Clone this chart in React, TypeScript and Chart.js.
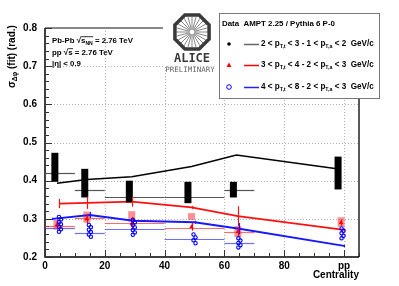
import React, { useEffect, useRef } from 'react';
import { Chart, registerables } from 'chart.js';

Chart.register(...registerables);

const FONT = '"Liberation Sans", Arial, Helvetica, sans-serif';

// ---- axis ticks ----
const xTickValues = [0, 20, 40, 60, 80, 100];
const xTickLabels = ['0', '20', '40', '60', '80', 'pp'];
const yTickValues = [0.2, 0.3, 0.4, 0.5, 0.6, 0.7, 0.8];

// ---- centrality bins (horizontal bars) ----
const binLo = [0, 10, 20, 40, 60, null];
const binHi = [10, 20, 40, 60, 70, null];

// ---- AMPT model lines ----
const blackModelX = [4, 14, 29, 49, 64, 97];
const blackModelY = [0.393, 0.403, 0.41, 0.437, 0.467, 0.432];
const redModelX = [4.7, 14, 29, 49, 64.5, 100];
const redModelY = [0.34, 0.342, 0.345, 0.33, 0.307, 0.271];
const redModelErr = [0.012, 0.016, 0.013, 0.004, 0.026, 0.004];
const blueModelX = [2.5, 15, 29.5, 50, 65, 100];
const blueModelY = [0.3, 0.31, 0.295, 0.291, 0.274, 0.229];
const blueModelErr = [0.003, 0.008, 0.008, 0.004, 0.015, 0.003];

// ---- data: 2<pTt<3, 1<pTa<2 ----
const blackDataX = [3.3, 13.3, 28.2, 47.8, 63, 98];
const blackDataY = [0.42, 0.375, 0.358, 0.358, 0.3755, 0.42];
const blackSysLo = [0.397, 0.356, 0.343, 0.341, 0.356, 0.377];
const blackSysHi = [0.473, 0.431, 0.4, 0.397, 0.397, 0.463];

// ---- data: 3<pTt<4, 2<pTa<3 ----
const redDataX = [4, 14, 29, 49, 64.5, 99];
const redDataY = [0.284, 0.3, 0.288, 0.279, 0.266, 0.29];
const redStatErr = [0.012, 0.012, 0.016, 0.01, 0.012, 0.008];
const redSysLo = [0.272, 0.29, 0.293, 0.297, 0.252, 0.279];
const redSysHi = [0.297, 0.319, 0.32, 0.315, 0.281, 0.304];
const redBarY = [0.282, 0.302, 0.29, 0.276, 0.266, null];

// ---- data: 4<pTt<8, 2<pTa<3 ----
const blueDataX = [5, 15, 29.7, 50, 65, 99.5];
const blueSysLo = [0.266, 0.253, 0.258, 0.236, 0.225, 0.249];
const blueSysHi = [0.305, 0.284, 0.297, 0.259, 0.249, 0.275];
const blueBarY = [0.277, 0.264, 0.273, 0.247, 0.2375, null];

type Part = { t: string; sub?: boolean; over?: boolean };

function drawRich(ctx: CanvasRenderingContext2D, parts: Part[], x: number, y: number, size: number, color = '#000', weight = 'bold') {
  let cx = x;
  ctx.fillStyle = color;
  ctx.textBaseline = 'middle';
  ctx.textAlign = 'left';
  for (const p of parts) {
    const s = p.sub ? size * 0.65 : size;
    ctx.font = `${weight} ${s}px ${FONT}`;
    const dy = p.sub ? size * 0.32 : 0;
    ctx.fillText(p.t, cx, y + dy);
    const w = ctx.measureText(p.t).width;
    if (p.over) {
      ctx.strokeStyle = color;
      ctx.lineWidth = 0.8;
      ctx.beginPath();
      ctx.moveTo(cx, y - size * 0.55);
      ctx.lineTo(cx + w + 0.5, y - size * 0.55);
      ctx.stroke();
    }
    cx += w;
  }
  return cx - x;
}

function richWidth(ctx: CanvasRenderingContext2D, parts: Part[], size: number, weight = 'bold') {
  let w = 0;
  for (const p of parts) {
    const s = p.sub ? size * 0.65 : size;
    ctx.font = `${weight} ${s}px ${FONT}`;
    w += ctx.measureText(p.t).width;
  }
  return w;
}

function drawFit(ctx: CanvasRenderingContext2D, parts: Part[], x: number, y: number, width: number, color = '#000') {
  const w10 = richWidth(ctx, parts, 10);
  const size = (10 * width) / w10;
  drawRich(ctx, parts, x, y, size, color);
}

const decorPlugin = {
  id: 'decor',
  beforeDatasetsDraw(chart: any) {
    const ctx: CanvasRenderingContext2D = chart.ctx;
    const xs = chart.scales.x;
    const ys = chart.scales.y;
    const a = chart.chartArea;
    ctx.save();
    // grid
    ctx.strokeStyle = '#b0b0b0';
    ctx.lineWidth = 1;
    ctx.setLineDash([1, 2]);
    for (const v of xTickValues) {
      if (v === 0) continue;
      const p = Math.round(xs.getPixelForValue(v)) + 0.5;
      ctx.beginPath();
      ctx.moveTo(p, a.top);
      ctx.lineTo(p, a.bottom);
      ctx.stroke();
    }
    for (const v of yTickValues) {
      if (v <= 0.2 || v >= 0.8) continue;
      const p = Math.round(ys.getPixelForValue(v)) + 0.5;
      ctx.beginPath();
      ctx.moveTo(a.left, p);
      ctx.lineTo(a.right, p);
      ctx.stroke();
    }
    ctx.setLineDash([]);
    // frame
    ctx.strokeStyle = '#888';
    ctx.lineWidth = 2;
    ctx.beginPath();
    ctx.moveTo(a.left, a.top);
    ctx.lineTo(a.right, a.top);
    ctx.stroke();
    ctx.strokeStyle = '#222';
    ctx.lineWidth = 1.5;
    ctx.beginPath();
    ctx.moveTo(a.right, a.top);
    ctx.lineTo(a.right, a.bottom);
    ctx.stroke();
    ctx.strokeStyle = '#000';
    ctx.lineWidth = 1.5;
    ctx.beginPath();
    ctx.moveTo(a.left, a.top);
    ctx.lineTo(a.left, a.bottom);
    ctx.lineTo(a.right, a.bottom);
    ctx.stroke();
    // ticks
    ctx.lineWidth = 1;
    ctx.strokeStyle = '#333';
    for (let k = 0; k <= 30; k++) {
      const v = 0.2 + k * 0.02;
      const p = Math.round(ys.getPixelForValue(v)) + 0.5;
      const len = k % 5 === 0 ? 7 : 4;
      ctx.beginPath();
      ctx.moveTo(a.left, p);
      ctx.lineTo(a.left + len, p);
      ctx.stroke();
    }
    for (let k = 0; k <= 21; k++) {
      const v = k * 5;
      const p = Math.round(xs.getPixelForValue(v)) + 0.5;
      const len = k % 4 === 0 ? 7 : 4;
      ctx.beginPath();
      ctx.moveTo(p, a.bottom);
      ctx.lineTo(p, a.bottom - len);
      ctx.stroke();
    }

    // red systematic boxes
    ctx.fillStyle = 'rgba(255,70,70,0.6)';
    redDataX.forEach((x, i) => {
      const px = xs.getPixelForValue(x);
      const t = ys.getPixelForValue(redSysHi[i]);
      const b = ys.getPixelForValue(redSysLo[i]);
      ctx.fillRect(px - 3.5, t, 7, b - t);
    });
    // horizontal bin bars
    binLo.forEach((lo, i) => {
      if (lo === null) return;
      const hi = binHi[i] as number;
      const x0 = xs.getPixelForValue(lo);
      const x1 = xs.getPixelForValue(hi);
      const bars: [number | null, string][] = [
        [blackDataY[i], '#555'],
        [redBarY[i], 'rgba(255,60,60,0.75)'],
        [blueBarY[i], 'rgba(60,60,255,0.75)'],
      ];
      for (const [yv, col] of bars) {
        if (yv === null) continue;
        const py = Math.round(ys.getPixelForValue(yv)) + 0.5;
        ctx.strokeStyle = col;
        ctx.lineWidth = 1.2;
        ctx.beginPath();
        ctx.moveTo(x0, py);
        ctx.lineTo(x1, py);
        ctx.stroke();
      }
    });
    ctx.restore();
  },
  afterDatasetsDraw(chart: any) {
    const ctx: CanvasRenderingContext2D = chart.ctx;
    const xs = chart.scales.x;
    const ys = chart.scales.y;
    ctx.save();
    // black systematic boxes
    ctx.fillStyle = '#000';
    blackDataX.forEach((x, i) => {
      const px = xs.getPixelForValue(x);
      const t = ys.getPixelForValue(blackSysHi[i]);
      const b = ys.getPixelForValue(blackSysLo[i]);
      ctx.fillRect(px - 3.5, t, 7, b - t);
    });
    // model error bars
    const errBars = (X: number[], Y: number[], E: number[], col: string) => {
      ctx.strokeStyle = col;
      ctx.lineWidth = 1.2;
      X.forEach((x, i) => {
        const px = Math.round(xs.getPixelForValue(x)) + 0.5;
        ctx.beginPath();
        ctx.moveTo(px, ys.getPixelForValue(Y[i] - E[i]));
        ctx.lineTo(px, ys.getPixelForValue(Y[i] + E[i]));
        ctx.stroke();
      });
    };
    errBars(redModelX, redModelY, redModelErr, '#ff1010');
    errBars(blueModelX, blueModelY, blueModelErr, '#1818ff');
    errBars(redDataX, redDataY, redStatErr, '#ff0000');
    // blue data: stacked open markers across systematic range
    ctx.strokeStyle = '#0000ff';
    ctx.lineWidth = 1.1;
    blueDataX.forEach((x, i) => {
      const px = xs.getPixelForValue(x);
      const t = ys.getPixelForValue(blueSysHi[i]);
      const b = ys.getPixelForValue(blueSysLo[i]);
      const n = Math.max(2, Math.round((b - t) / 2.6));
      for (let k = 0; k <= n; k++) {
        const py = t + ((b - t) * k) / n;
        const ox = k % 2 === 0 ? -1 : 1;
        ctx.beginPath();
        ctx.arc(px + ox, py, 1.7, 0, Math.PI * 2);
        ctx.stroke();
      }
    });
    ctx.restore();
  },
  afterDraw(chart: any) {
    const ctx: CanvasRenderingContext2D = chart.ctx;
    ctx.save();
    // ALICE logo
    ctx.fillStyle = '#fff';
    ctx.fillRect(163, 0, 56, 67);
    const cx = 192, cy = 32;
    ctx.strokeStyle = '#8a8a8a';
    ctx.lineWidth = 1;
    for (let k = 0; k < 24; k++) {
      const ang = (k * Math.PI * 2) / 24;
      ctx.beginPath();
      ctx.moveTo(cx + Math.cos(ang) * 2.5, cy + Math.sin(ang) * 2.5);
      ctx.lineTo(cx + Math.cos(ang) * 16, cy + Math.sin(ang) * 16);
      ctx.stroke();
    }
    ctx.strokeStyle = '#3a3a3a';
    ctx.lineWidth = 3.5;
    ctx.beginPath();
    for (let k = 0; k <= 8; k++) {
      const ang = Math.PI / 8 + (k * Math.PI * 2) / 8;
      const px = cx + Math.cos(ang) * 18.5;
      const py = cy + Math.sin(ang) * 18.5;
      if (k === 0) ctx.moveTo(px, py);
      else ctx.lineTo(px, py);
    }
    ctx.closePath();
    ctx.stroke();
    ctx.fillStyle = '#3a3a3a';
    ctx.textAlign = 'center';
    ctx.textBaseline = 'middle';
    ctx.font = `bold 12px "DejaVu Sans Mono", monospace`;
    ctx.fillText('ALICE', cx, 59);
    ctx.fillStyle = '#666';
    ctx.font = `7.5px "DejaVu Sans Mono", monospace`;
    ctx.fillText('PRELIMINARY', 190, 70);

    // legend box
    ctx.fillStyle = '#fff';
    ctx.fillRect(219, 13, 161, 86);
    ctx.strokeStyle = '#777';
    ctx.lineWidth = 1;
    ctx.strokeRect(219.5, 13.5, 160, 85);
    drawFit(ctx, [{ t: 'Data  AMPT 2.25 / Pythia 6 P-0' }], 222, 24, 113);
    const rows: { y: number; col: string; lineCol: string; parts: Part[]; mk: string }[] = [
      { y: 44, col: '#000', lineCol: '#666', mk: 'dot', parts: [{ t: '2 < p' }, { t: 'T,t', sub: true }, { t: ' < 3 - 1 < p' }, { t: 'T,a', sub: true }, { t: ' < 2  GeV/c' }] },
      { y: 65, col: '#ff0000', lineCol: '#ff0000', mk: 'tri', parts: [{ t: '3 < p' }, { t: 'T,t', sub: true }, { t: ' < 4 - 2 < p' }, { t: 'T,a', sub: true }, { t: ' < 3  GeV/c' }] },
      { y: 87, col: '#0000ff', lineCol: '#2222ff', mk: 'open', parts: [{ t: '4 < p' }, { t: 'T,t', sub: true }, { t: ' < 8 - 2 < p' }, { t: 'T,a', sub: true }, { t: ' < 3  GeV/c' }] },
    ];
    for (const r of rows) {
      ctx.strokeStyle = r.lineCol;
      ctx.lineWidth = 1.5;
      ctx.beginPath();
      ctx.moveTo(244, r.y + 0.5);
      ctx.lineTo(259, r.y + 0.5);
      ctx.stroke();
      ctx.fillStyle = r.col;
      ctx.strokeStyle = r.col;
      if (r.mk === 'dot') {
        ctx.beginPath();
        ctx.arc(229, r.y, 1.8, 0, Math.PI * 2);
        ctx.fill();
      } else if (r.mk === 'tri') {
        ctx.beginPath();
        ctx.moveTo(229, r.y - 2.5);
        ctx.lineTo(231.5, r.y + 2);
        ctx.lineTo(226.5, r.y + 2);
        ctx.closePath();
        ctx.fill();
      } else {
        ctx.lineWidth = 1;
        ctx.beginPath();
        ctx.arc(229, r.y, 2.3, 0, Math.PI * 2);
        ctx.stroke();
      }
      drawFit(ctx, r.parts, 261, r.y, 113);
    }

    // header text
    drawFit(ctx, [{ t: 'Pb-Pb ' }, { t: '\u221A' }, { t: 's', over: true }, { t: 'NN', sub: true, over: true }, { t: ' = 2.76 TeV' }], 52, 41, 81);
    drawFit(ctx, [{ t: 'pp ' }, { t: '\u221A' }, { t: 's', over: true }, { t: ' = 2.76 TeV' }], 52, 53, 61);
    drawFit(ctx, [{ t: '|\u03B7| < 0.9' }], 52, 64, 29);

    // y title
    ctx.save();
    ctx.translate(12, 88);
    ctx.rotate(-Math.PI / 2);
    drawFit(ctx, [{ t: '\u03C3' }, { t: '\u0394\u03C6', sub: true }, { t: ' (fit) (rad.)' }], 0, 0, 63);
    ctx.restore();

    // x title
    ctx.fillStyle = '#000';
    ctx.font = `bold 10px ${FONT}`;
    ctx.textAlign = 'right';
    ctx.textBaseline = 'middle';
    ctx.fillText('Centrality', 359, 275);
    ctx.restore();
  },
};

export default function App() {
  const ref = useRef<HTMLCanvasElement | null>(null);
  useEffect(() => {
    document.body.style.margin = '0';
    const canvas = ref.current;
    if (!canvas) return;
    const pts = (X: number[], Y: number[]) => X.map((x, i) => ({ x, y: Y[i] }));
    const chart = new Chart(canvas, {
      type: 'line',
      data: {
        datasets: [
          { data: pts(blackModelX, blackModelY), borderColor: '#000', borderWidth: 1.5, pointRadius: 0, tension: 0 },
          { data: pts(redModelX, redModelY), borderColor: '#ff1010', borderWidth: 1.8, pointRadius: 0, tension: 0 },
          { data: pts(blueModelX, blueModelY), borderColor: '#1818ff', borderWidth: 1.8, pointRadius: 0, tension: 0 },
          {
            type: 'scatter' as any,
            data: pts(redDataX, redDataY),
            showLine: false,
            pointStyle: 'triangle',
            pointRadius: 2.6,
            backgroundColor: '#ff0000',
            borderColor: '#ff0000',
            borderWidth: 0,
          },
        ],
      },
      options: {
        responsive: false,
        animation: false,
        devicePixelRatio: 1,
        layout: { padding: { top: 28, right: 40, left: 0, bottom: 0 } },
        plugins: { legend: { display: false }, tooltip: { enabled: false } },
        scales: {
          x: {
            type: 'linear',
            min: 0,
            max: 105,
            grid: { display: false, drawTicks: false },
            border: { display: false },
            afterBuildTicks: (s: any) => {
              s.ticks = xTickValues.map((v) => ({ value: v }));
            },
            afterFit: (s: any) => {
              s.height = 29;
            },
            ticks: {
              padding: 3,
              maxRotation: 0,
              autoSkip: false,
              color: '#000',
              font: { family: FONT, size: 10, weight: 'bold' },
              callback: (v: any) => {
                const i = xTickValues.indexOf(Number(v));
                return i >= 0 ? xTickLabels[i] : '';
              },
            },
          },
          y: {
            type: 'linear',
            min: 0.2,
            max: 0.8,
            grid: { display: false, drawTicks: false },
            border: { display: false },
            afterBuildTicks: (s: any) => {
              s.ticks = yTickValues.map((v) => ({ value: v }));
            },
            afterFit: (s: any) => {
              s.width = 45;
            },
            ticks: {
              padding: 8,
              autoSkip: false,
              color: '#000',
              font: { family: FONT, size: 10, weight: 'bold' },
              callback: (v: any) => Number(v).toFixed(1),
            },
          },
        },
      },
      plugins: [decorPlugin],
    });
    return () => chart.destroy();
  }, []);
  return (
    <div style={{ width: 399, height: 286, background: '#fff' }}>
      <canvas ref={ref} width={399} height={286} style={{ display: 'block' }} />
    </div>
  );
}
